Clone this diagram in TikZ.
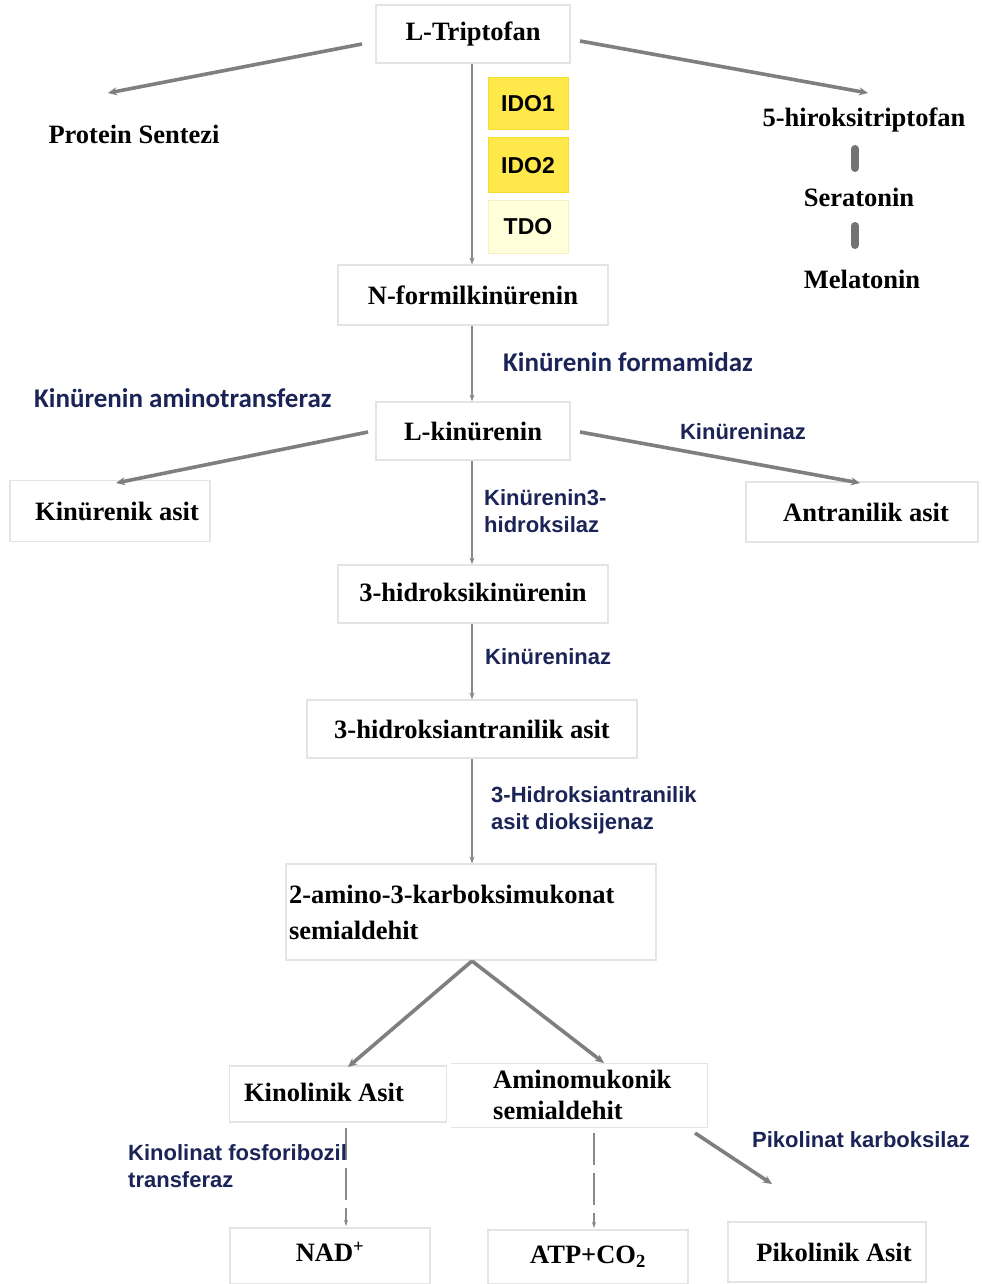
\documentclass[tikz,border=0pt]{standalone}
\usepackage{fontspec}
\setmainfont{Liberation Serif}
\newfontfamily\arialfam{Liberation Sans}
\newfontfamily\calibfam{Carlito}
\usetikzlibrary{arrows.meta}
\definecolor{lbl}{HTML}{1B2457}
\definecolor{arrc}{HTML}{7F7F7F}
\definecolor{thinc}{HTML}{8A8A8A}
\definecolor{boxln}{HTML}{E4E4E4}
\definecolor{idoY}{HTML}{FFE94A}
\definecolor{idoB}{HTML}{F7DC2A}
\definecolor{tdoY}{HTML}{FFFFDA}
\definecolor{tdoB}{HTML}{F4F0C4}
\newcommand\tsfont{\fontsize{26.5}{31}\selectfont\bfseries}
\newcommand\arlab{\arialfam\fontsize{22}{27}\selectfont\bfseries}
\newcommand\callab{\calibfam\fontsize{27}{30}\selectfont\bfseries}
\newcommand\idofont{\arialfam\fontsize{23}{26}\selectfont\bfseries}
\begin{document}
\begin{tikzpicture}[x=1pt,y=-1pt,
  box/.style={draw=boxln, line width=1.2pt, fill=white, inner sep=0pt, font=\tsfont},
  plain/.style={inner sep=0pt, font=\tsfont},
  enz/.style={inner sep=0pt, font=\arlab, text=lbl, align=left, anchor=west},
  enzc/.style={inner sep=0pt, font=\callab, text=lbl, align=left, anchor=west},
  ido/.style={draw=idoB, line width=1pt, fill=idoY, minimum width=80, inner sep=0pt, font=\idofont},
  thk/.style={draw=arrc, line width=3.6pt, -{Stealth[length=9pt,width=8pt]}},
  thn/.style={draw=thinc, line width=2pt, -{Stealth[length=7pt,width=5pt]}},
  dsh/.style={draw=thinc, line width=1.3pt, dash pattern=on 32pt off 8pt, -{Stealth[length=6pt,width=4pt]}},
  bar/.style={draw=black!55, line width=8pt, line cap=round}]
\useasboundingbox (0,0) rectangle (982,1284);
\fill[white] (0,0) rectangle (982,1284);

% top
\node[box, minimum width=194, minimum height=58] (trp) at (473,34) {L-Triptofan};
\node[plain] (prot) at (134,134) {Protein Sentezi};
\node[plain] (hir) at (864,120) {5-hiroksitriptofan};
\node[plain] (ser) at (859,197) {Seratonin};
\node[plain] (mel) at (862,279) {Melatonin};

\draw[thk] ([shift={(-111,10)}]trp.center) -- ([shift={(-26,-41)}]prot.center);
\draw[thk] ([shift={(107,7)}]trp.center) -- ([shift={(4,-27)}]hir.center);
\draw[bar] ([shift={(-9,29)}]hir.center) -- ([shift={(-4,-29)}]ser.center);
\draw[bar] ([shift={(-4,29)}]ser.center) -- ([shift={(-7,-34)}]mel.center);

\node[ido, minimum height=52] (ido1) at (528,104) {IDO1};
\node[ido, minimum height=55] (ido2) at (528,165.5) {IDO2};
\node[ido, minimum height=53, draw=tdoB, fill=tdoY] (tdo) at (528,226.5) {TDO};

\node[box, minimum width=270, minimum height=60] (nfk) at (473,295) {N-formilkinürenin};
\draw[thn] ([xshift=-1pt]trp.south) -- ([xshift=-1pt]nfk.north);

\node[enzc] (formam) at (503,362) {Kinürenin formamidaz};
\node[enzc] (amtr) at (34,398) {Kinürenin aminotransferaz};

\node[box, minimum width=194, minimum height=58] (lkyn) at (473,431) {L-kinürenin};
\draw[thn] ([xshift=-1pt]nfk.south) -- ([xshift=-1pt]lkyn.north);

\node[box, minimum width=200, minimum height=61] (kyna) at (110,511) {\hspace*{14pt}Kinürenik asit};
\node[box, minimum width=232, minimum height=60] (anth) at (862,512) {\hspace*{8pt}Antranilik asit};
\draw[thk] ([shift={(-105,1)}]lkyn.center) -- ([shift={(6,-28)}]kyna.center);
\draw[thk] ([shift={(107,1)}]lkyn.center) -- ([shift={(-2,-29)}]anth.center);
\node[enz, anchor=center] (kynz1) at (743,432) {Kinüreninaz};

\node[box, minimum width=270, minimum height=58] (hk) at (473,594) {\raisebox{3pt}{3-hidroksikinürenin}};
\draw[thn] ([xshift=-1pt]lkyn.south) -- ([xshift=-1pt]hk.north);
\node[enz] (kmo) at (484,511.5) {Kinürenin3-\\hidroksilaz};

\node[box, minimum width=330, minimum height=58] (haa) at (472,729) {3-hidroksiantranilik asit};
\draw[thn] ([xshift=-1pt]hk.south) -- (haa.north);
\node[enz] (kynz2) at (485,657) {Kinüreninaz};

\node[box, minimum width=370, minimum height=96, text width=364, align=left, font=\fontsize{26.5}{36}\selectfont\bfseries] (acms) at (471,912) {2-amino-3-karboksimukonat\\semialdehit};
\draw[thn] (haa.south) -- ([xshift=1pt]acms.north);
\node[enz] (haao) at (491,810.5) {3-Hidroksiantranilik\\asit dioksijenaz};

% branches
\node[box, minimum width=217, minimum height=56] (qa) at (338,1094) {\raisebox{4pt}{\hspace*{-28pt}Kinolinik Asit}};
\node[box, minimum width=255, minimum height=63, draw=none] (amb) at (579.5,1095.5) {};
\draw[boxln, line width=1.2pt] (amb.south west) -- (amb.south east) -- (amb.north east) -- (amb.north west);
\node[plain, align=left, anchor=west, font=\fontsize{26.5}{31}\selectfont\bfseries] (amino) at (493,1094.5) {Aminomukonik\\semialdehit};

\draw[thk] ([shift={(1,49)}]acms.center) -- ([shift={(10,-27)}]qa.center);
\draw[thk] ([shift={(1,49)}]acms.center) -- ([shift={(24.5,-32.5)}]amb.center);

\node[box, minimum width=200, minimum height=56] (nad) at (330,1256) {\raisebox{8pt}{NAD\textsuperscript{+}}};
\node[box, minimum width=200, minimum height=54] (atp) at (588,1257) {\raisebox{5pt}{ATP+CO\textsubscript{2}}};
\node[box, minimum width=198, minimum height=60] (pic) at (827,1252) {\hspace*{14pt}Pikolinik Asit};

\draw[dsh] ([shift={(8,34)}]qa.center) -- ([shift={(16,-30)}]nad.center);
\draw[dsh] ([shift={(14.5,37.5)}]amb.center) -- ([shift={(6,-29)}]atp.center);
\draw[thk] ([shift={(115.5,37.5)}]amb.center) -- ([shift={(-55,-68)}]pic.center);

\node[enz] (qprt) at (128,1166.5) {Kinolinat fosforibozil\\transferaz};
\node[enz, anchor=center] (pcs) at (861,1140) {Pikolinat karboksilaz};
\end{tikzpicture}
\end{document}
